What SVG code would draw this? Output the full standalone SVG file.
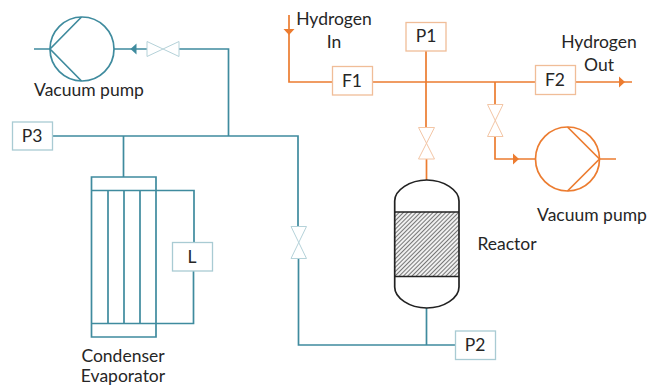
<svg xmlns="http://www.w3.org/2000/svg" width="649" height="386" viewBox="0 0 649 386">
<style>
.t{stroke:#3f8b9e;fill:none;stroke-width:1.7}
.o{stroke:#ec7c30;fill:none;stroke-width:1.7}
.bt{fill:#fff;stroke:#a9cbd3;stroke-width:1.3}
.bo{fill:#fff;stroke:#f0bd98;stroke-width:1.3}
.vt{fill:none;stroke:#b5d2d9;stroke-width:1}
.vo{fill:none;stroke:#f3c6a6;stroke-width:1}
.k{fill:none;stroke:#222;stroke-width:1.7}
text{font-family:Lato,"Open Sans",sans-serif;font-size:17.500px;fill:#262626;text-anchor:middle}
</style>
<defs>
<pattern id="hatch" width="3" height="3" patternUnits="userSpaceOnUse" patternTransform="rotate(-45)">
<rect width="3" height="3" fill="#f0f0f0"/>
<rect width="3" height="1" fill="#777"/>
</pattern>
</defs>
<g id="connectors">
<path class="t" d="M34 49H50M114 49H147M179 49H228.500V136M52.500 136H298V227M298.500 259V345H455M123.500 136V177M426.500 308V345"/>
<path class="t" d="M156 190.500H194V243M193.500 271V323.500H156"/>
<path fill="#3f8b9e" d="M130.500 49L136.500 43.500V54.500Z"/>
<path class="o" d="M289 15V82H332M372.500 82H535.500M575.500 82H632M426 51V127.500M426.500 159V180M495 82V104.500M495 136.500V159H535M600 159H616"/>
<path fill="#ec7c30" d="M289 35L283.500 29H294.500ZM625 82L619 76.500V87.500ZM519 159L513 153.500V164.500Z"/>
</g>
<g id="vacuum-pump-1">
<circle class="t" cx="82" cy="49" r="32"/>
<path class="t" d="M50 49L81.500 17M50 49L81.500 81"/>
<text x="89" y="96">Vacuum pump</text>
</g>
<g id="valve-1"><path class="vt" d="M147 41.500V56.500L179 41.500V56.500Z"/></g>
<g id="p3"><rect class="bt" x="12.500" y="122" width="40" height="28"/><text x="32" y="142">P3</text></g>
<g id="condenser-evaporator">
<path class="t" d="M91.500 177H156V337H91.500ZM91.500 190.500H156M91.500 323.500H156M108 190.500V323.500M124 190.500V323.500M140 190.500V323.500"/>
<text x="123" y="361.500">Condenser</text>
<text x="123" y="381.500">Evaporator</text>
</g>
<g id="l"><rect class="bt" x="172.500" y="242.500" width="40" height="28.500"/><text x="192" y="263">L</text></g>
<g id="valve-2"><path class="vt" d="M291 226.500H306.500L291 258.500H306.500Z"/></g>
<g id="p2"><rect class="bt" x="455.500" y="331" width="40" height="28.500"/><text x="475" y="351">P2</text></g>
<g id="reactor">
<path fill="#fff" d="M394.700 212V201C394.700 190 410 180 426.800 180S459 190 459 201V212ZM394.700 276.500V287C394.700 298 410 308 426.800 308S459 298 459 287V276.500Z"/>
<rect x="394.700" y="212" width="64.300" height="64.500" fill="url(#hatch)"/>
<path class="k" d="M394.700 212V201C394.700 190 410 180 426.800 180S459 190 459 201V287C459 298 444 308 426.800 308S394.700 298 394.700 287V201M394.700 212H459M394.700 276.500H459"/>
<text x="507" y="250">Reactor</text>
</g>
<g id="hydrogen-in"><text x="334" y="25">Hydrogen</text><text x="334" y="48">In</text></g>
<g id="f1"><rect class="bo" x="332.500" y="66.500" width="40" height="28.500"/><text x="352" y="87">F1</text></g>
<g id="p1"><rect class="bo" x="406" y="22.500" width="40" height="28.500"/><text x="426" y="42">P1</text></g>
<g id="valve-3"><path class="vo" d="M418.500 127.500H434.500L418.500 159H434.500Z"/></g>
<g id="valve-4"><path class="vo" d="M487.500 104.500H503L487.500 136.500H503Z"/></g>
<g id="f2"><rect class="bo" x="535.500" y="65.500" width="40" height="29"/><text x="555" y="86">F2</text></g>
<g id="hydrogen-out"><text x="599" y="48">Hydrogen</text><text x="599" y="71">Out</text></g>
<g id="vacuum-pump-2">
<circle class="o" cx="567.500" cy="159" r="32"/>
<path class="o" d="M599.500 159L567.500 127M599.500 159L567.500 191"/>
<text x="592" y="221">Vacuum pump</text>
</g>
</svg>
